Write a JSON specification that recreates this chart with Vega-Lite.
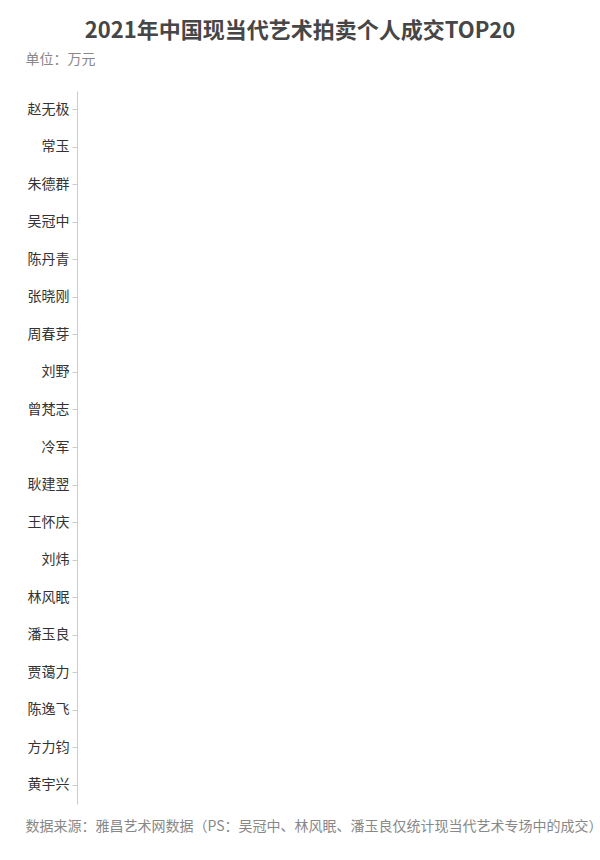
{
  "$schema": "https://vega.github.io/schema/vega-lite/v6.json",
  "width": 500,
  "height": 713,
  "autosize": {"type": "none"},
  "padding": {"left": 77, "top": 91, "right": 23, "bottom": 56},
  "background": "#ffffff",
  "title": {
    "text": "2021年中国现当代艺术拍卖个人成交TOP20",
    "anchor": "middle",
    "frame": "group",
    "dx": -27,
    "fontSize": 22,
    "fontWeight": "bold",
    "color": "#464646",
    "font": "Noto Sans CJK SC",
    "offset": 9
  },
  "data": {
    "values": [
      {"name": "赵无极", "amount": 0},
      {"name": "常玉", "amount": 0},
      {"name": "朱德群", "amount": 0},
      {"name": "吴冠中", "amount": 0},
      {"name": "陈丹青", "amount": 0},
      {"name": "张晓刚", "amount": 0},
      {"name": "周春芽", "amount": 0},
      {"name": "刘野", "amount": 0},
      {"name": "曾梵志", "amount": 0},
      {"name": "冷军", "amount": 0},
      {"name": "耿建翌", "amount": 0},
      {"name": "王怀庆", "amount": 0},
      {"name": "刘炜", "amount": 0},
      {"name": "林风眠", "amount": 0},
      {"name": "潘玉良", "amount": 0},
      {"name": "贾蔼力", "amount": 0},
      {"name": "陈逸飞", "amount": 0},
      {"name": "方力钧", "amount": 0},
      {"name": "黄宇兴", "amount": 0}
    ]
  },
  "mark": {"type": "bar", "color": "#5470c6"},
  "encoding": {
    "y": {
      "field": "name",
      "type": "nominal",
      "sort": null,
      "scale": {"paddingInner": 0.3, "paddingOuter": 0.15},
      "axis": {
        "title": "单位：万元",
        "titleAngle": 0,
        "titleAlign": "left",
        "titleBaseline": "middle",
        "titleX": -52,
        "titleY": -32,
        "titleFontSize": 14,
        "titleFontWeight": "normal",
        "titleColor": "#888888",
        "labelFontSize": 14,
        "labelColor": "#333333",
        "labelPadding": 3,
        "tickSize": 5,
        "tickColor": "#cccccc",
        "domainColor": "#cccccc",
        "grid": false
      }
    },
    "x": {
      "field": "amount",
      "type": "quantitative",
      "scale": {"domain": [0, 1]},
      "axis": {
        "title": "数据来源：雅昌艺术网数据（PS：吴冠中、林风眠、潘玉良仅统计现当代艺术专场中的成交）",
        "titleAnchor": "start",
        "titleAlign": "left",
        "titleBaseline": "middle",
        "titleX": -52,
        "titleY": 22,
        "titleFontSize": 14,
        "titleFontWeight": "normal",
        "titleColor": "#888888",
        "labels": false,
        "ticks": false,
        "domain": false,
        "grid": false
      }
    }
  },
  "config": {
    "view": {"stroke": null},
    "font": "Noto Sans CJK SC",
    "axis": {"labelFont": "Noto Sans CJK SC", "titleFont": "Noto Sans CJK SC"}
  }
}
